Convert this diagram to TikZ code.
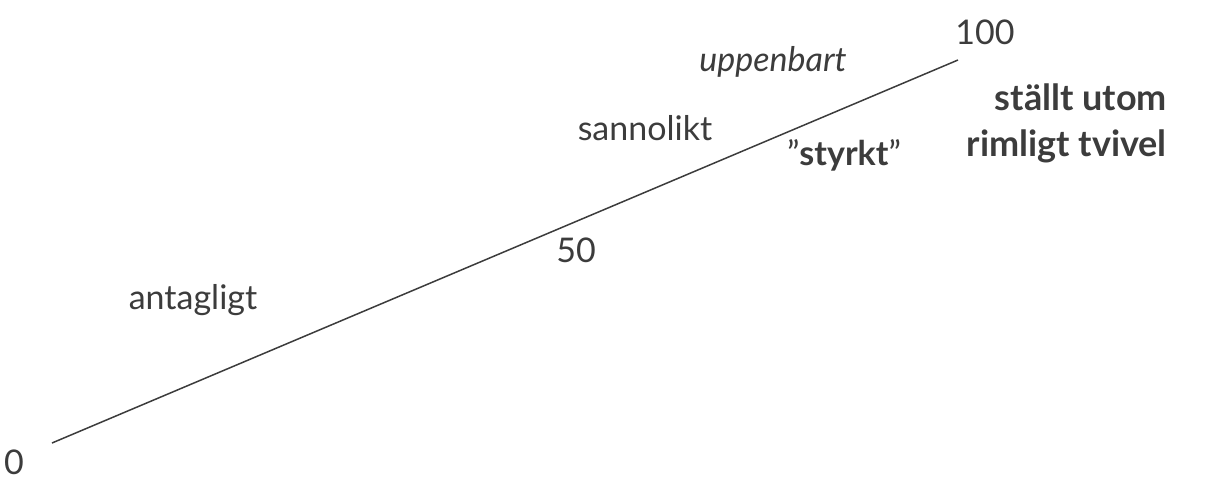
\documentclass[tikz,border=0pt]{standalone}
\usepackage{fontspec}
\setmainfont{Lato}
\definecolor{ink}{HTML}{3C3C3C}
\begin{document}
\begin{tikzpicture}[x=1pt,y=-1pt,
  lbl/.style={text=ink,font=\fontsize{34}{40}\selectfont,inner sep=0pt},
  bold/.style={lbl,font=\fontsize{36}{46}\selectfont\bfseries}]
\useasboundingbox (0,0) rectangle (1207,479);
% scale line
\coordinate (lo) at (52,443);
\coordinate (hi) at (958,60);
\draw[ink,line width=1.5pt] (lo) -- (hi);
% ticks and grades
\node[lbl] (n0) at (14,462) {0};
\node[lbl] (n50) at (576,250) {50};
\node[lbl] (n100) at (985,32) {100};
\node[lbl] (ant) at (193,300) {antagligt};
\node[lbl] (san) at (645,128) {sannolikt};
\node[lbl,font=\fontsize{34}{40}\selectfont\itshape] (upp) at (773,62) {uppenbart};
\node[lbl] (sty) at (844,155) {''\textbf{styrkt}''};
\node[bold,align=right,anchor=east] (bey) at (1167,123) {ställt utom\\rimligt tvivel};
\end{tikzpicture}
\end{document}
